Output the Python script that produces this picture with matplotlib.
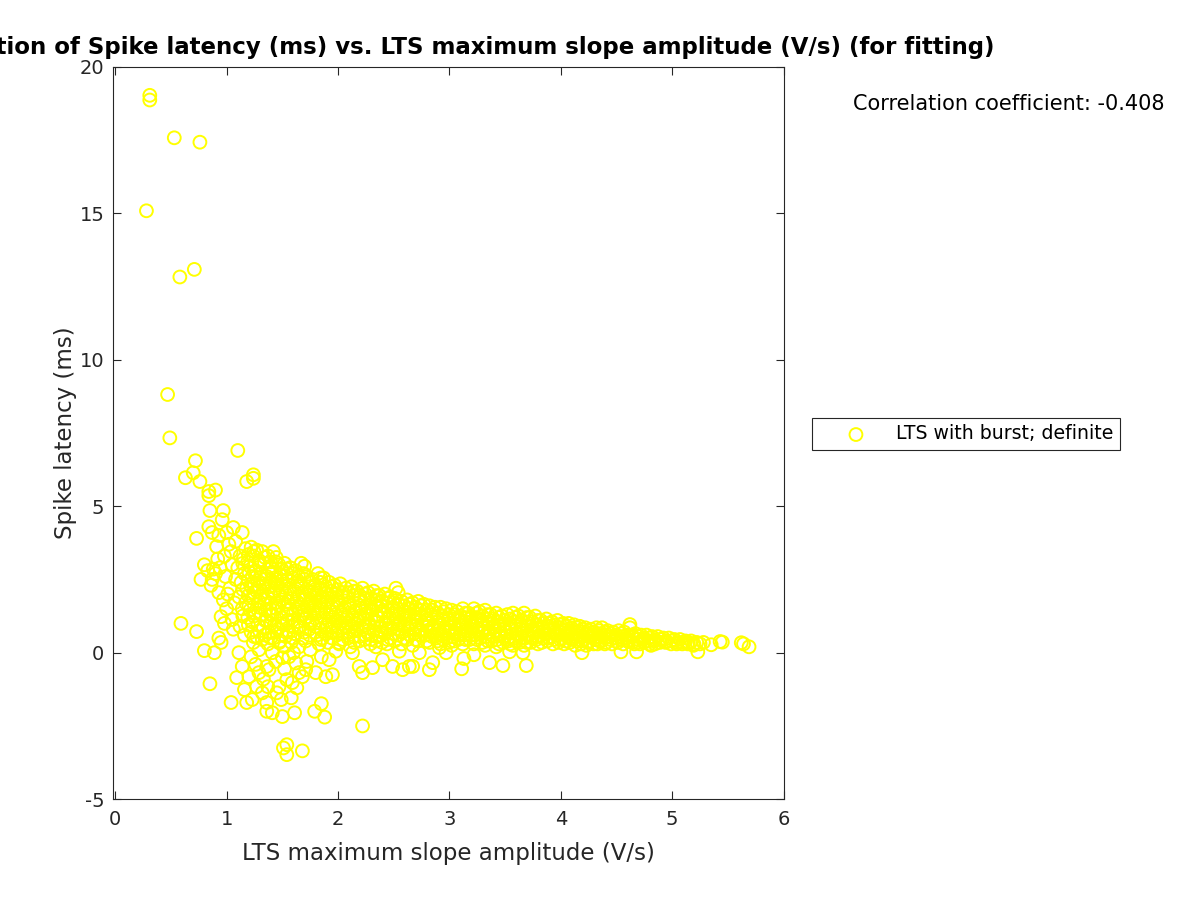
import matplotlib
matplotlib.use("Agg")
import matplotlib.pyplot as plt

plt.rcParams['axes.unicode_minus'] = False

outliers_high = [
    (0.31, 19.02), (0.31, 18.86), (0.53, 17.57), (0.76, 17.42), (0.28, 15.08),
    (0.58, 12.82), (0.71, 13.08), (0.47, 8.81), (0.49, 7.33), (1.10, 6.90),
    (0.63, 5.97), (0.72, 6.55), (0.70, 6.14), (0.76, 5.84), (1.18, 5.84),
    (1.24, 6.07), (1.24, 5.95), (0.84, 5.50), (0.84, 5.36), (0.90, 5.55),
]

fringe_left = [
    (0.85, 4.85), (0.97, 4.85), (0.96, 4.54), (0.84, 4.30), (0.87, 4.10),
    (1.06, 4.27), (1.14, 4.10), (0.91, 3.62), (0.73, 3.90), (0.80, 3.00),
    (0.77, 2.50), (0.87, 2.50), (0.93, 2.05), (0.95, 1.23), (1.05, 1.13),
    (0.93, 0.50), (0.80, 0.07), (0.89, 0.00), (0.85, -1.06), (0.59, 1.00),
    (0.73, 0.72), (0.83, 2.80), (0.90, 2.70), (0.98, 3.30), (1.02, 3.70),
    (1.05, 3.00), (0.99, 2.60), (1.03, 2.20), (0.97, 1.80), (1.00, 1.50),
    (1.07, 1.70), (1.04, 3.45), (0.92, 3.20), (0.95, 0.35), (1.01, 2.00),
    (1.08, 2.50), (0.88, 2.85), (1.00, 4.10), (1.08, 3.80), (0.93, 4.00),
    (0.86, 2.30), (0.94, 2.90), (1.06, 0.80), (0.98, 1.00),
]

band_1 = [
    (1.12, 3.30), (1.10, 2.90), (1.13, 2.40), (1.11, 1.90), (1.14, 1.50), (1.12, 0.90),
    (1.17, 3.55), (1.19, 3.10), (1.16, 2.70), (1.18, 2.20), (1.17, 1.70), (1.19, 1.20), (1.16, 0.60),
    (1.22, 3.60), (1.24, 3.30), (1.21, 2.95), (1.23, 2.60), (1.22, 2.25), (1.24, 1.85),
    (1.21, 1.45), (1.23, 1.05), (1.22, 0.70), (1.24, 0.35),
    (1.27, 3.50), (1.29, 3.15), (1.26, 2.80), (1.28, 2.45), (1.27, 2.10), (1.29, 1.75),
    (1.26, 1.35), (1.28, 0.95), (1.27, 0.55),
    (1.32, 3.45), (1.34, 3.05), (1.31, 2.70), (1.33, 2.35), (1.32, 2.00), (1.34, 1.65),
    (1.31, 1.30), (1.33, 0.85), (1.32, 0.45),
    (1.37, 3.30), (1.39, 2.95), (1.36, 2.60), (1.38, 2.25), (1.37, 1.90), (1.39, 1.50),
    (1.36, 1.10), (1.38, 0.70), (1.37, 0.30),
    (1.42, 3.45), (1.44, 3.10), (1.41, 2.75), (1.43, 2.40), (1.42, 2.05), (1.44, 1.70),
    (1.41, 1.30), (1.43, 0.95), (1.42, 0.50),
    (1.47, 3.00), (1.49, 2.65), (1.46, 2.30), (1.48, 1.95), (1.47, 1.60), (1.49, 1.20),
    (1.46, 0.80), (1.48, 0.40),
    (1.52, 3.05), (1.54, 2.70), (1.51, 2.35), (1.53, 2.00), (1.52, 1.65), (1.54, 1.30),
    (1.51, 0.95), (1.53, 0.55), (1.52, 0.20),
    (1.57, 2.90), (1.59, 2.55), (1.56, 2.20), (1.58, 1.85), (1.57, 1.50), (1.59, 1.10),
    (1.56, 0.70), (1.58, 0.35),
    (1.15, 3.20), (1.20, 2.75), (1.25, 2.30), (1.30, 1.90), (1.35, 1.45), (1.40, 1.00),
    (1.45, 2.50), (1.50, 2.15), (1.55, 1.75), (1.20, 1.60), (1.30, 2.55), (1.40, 2.90),
]

band_2 = [
    (1.62, 2.80), (1.64, 2.45), (1.61, 2.10), (1.63, 1.75), (1.62, 1.40), (1.64, 1.05), (1.61, 0.65),
    (1.67, 3.05), (1.69, 2.70), (1.66, 2.35), (1.68, 2.00), (1.67, 1.65), (1.69, 1.30),
    (1.66, 0.90), (1.68, 0.50), (1.70, 2.95),
    (1.72, 2.60), (1.74, 2.25), (1.71, 1.90), (1.73, 1.55), (1.72, 1.20), (1.74, 0.80), (1.71, 0.40),
    (1.77, 2.50), (1.79, 2.15), (1.76, 1.80), (1.78, 1.45), (1.77, 1.10), (1.79, 0.70),
    (1.82, 2.70), (1.84, 2.40), (1.81, 2.05), (1.83, 1.70), (1.82, 1.35), (1.84, 1.00),
    (1.81, 0.60), (1.83, 0.30),
    (1.87, 2.55), (1.89, 2.25), (1.86, 1.90), (1.88, 1.55), (1.87, 1.20), (1.89, 0.85), (1.86, 0.50),
    (1.92, 2.40), (1.94, 2.10), (1.91, 1.75), (1.93, 1.40), (1.92, 1.05), (1.94, 0.70), (1.91, 0.35),
    (1.97, 2.30), (1.99, 2.00), (1.96, 1.65), (1.98, 1.30), (1.97, 0.95), (1.99, 0.60),
    (2.02, 2.35), (2.04, 2.05), (2.01, 1.70), (2.03, 1.35), (2.02, 1.00), (2.04, 0.65), (2.01, 0.30),
    (2.07, 2.20), (2.09, 1.90), (2.06, 1.55), (2.08, 1.20), (2.07, 0.85), (2.09, 0.50),
    (2.12, 2.25), (2.14, 1.95), (2.11, 1.60), (2.13, 1.25), (2.12, 0.90), (2.14, 0.55), (2.11, 0.20),
    (2.17, 2.10), (2.19, 1.80), (2.16, 1.45), (2.18, 1.10), (2.17, 0.75), (2.19, 0.40),
    (2.22, 2.20), (2.24, 1.85), (2.21, 1.50), (2.23, 1.15), (2.22, 0.80), (2.24, 0.45),
    (2.27, 2.05), (2.29, 1.70), (2.26, 1.35), (2.28, 1.00), (2.27, 0.65), (2.29, 0.30),
    (2.32, 2.10), (2.34, 1.80), (2.31, 1.45), (2.33, 1.10), (2.32, 0.75), (2.34, 0.40),
    (2.37, 1.95), (2.39, 1.60), (2.36, 1.25), (2.38, 0.90), (2.37, 0.55),
    (2.42, 2.00), (2.44, 1.70), (2.41, 1.35), (2.43, 1.00), (2.42, 0.65), (2.44, 0.30),
    (2.47, 1.90), (2.49, 1.55), (2.46, 1.20), (2.48, 0.85), (2.47, 0.50),
    (1.65, 1.90), (1.75, 1.35), (1.85, 1.75), (1.95, 1.20), (2.05, 1.45), (2.15, 1.00),
    (2.25, 1.55), (2.35, 1.05), (2.45, 1.45), (1.70, 1.15), (1.90, 0.95), (2.10, 0.70),
]

band_3 = [
    (2.52, 2.20), (2.54, 2.05), (2.51, 1.85), (2.53, 1.50), (2.52, 1.15), (2.54, 0.80), (2.51, 0.40),
    (2.57, 1.75), (2.59, 1.40), (2.56, 1.05), (2.58, 0.70), (2.57, 0.30),
    (2.62, 1.80), (2.64, 1.50), (2.61, 1.15), (2.63, 0.80), (2.62, 0.45),
    (2.67, 1.70), (2.69, 1.35), (2.66, 1.00), (2.68, 0.65), (2.67, 0.25),
    (2.72, 1.75), (2.74, 1.45), (2.71, 1.10), (2.73, 0.75), (2.72, 0.40),
    (2.77, 1.65), (2.79, 1.30), (2.76, 0.95), (2.78, 0.60),
    (2.82, 1.60), (2.84, 1.30), (2.81, 1.00), (2.83, 0.70), (2.82, 0.35),
    (2.87, 1.55), (2.89, 1.20), (2.86, 0.85), (2.88, 0.50),
    (2.92, 1.55), (2.94, 1.25), (2.91, 0.95), (2.93, 0.60), (2.92, 0.30),
    (2.97, 1.50), (2.99, 1.15), (2.96, 0.85), (2.98, 0.50),
    (3.02, 1.45), (3.04, 1.15), (3.01, 0.85), (3.03, 0.55), (3.02, 0.25),
    (3.07, 1.40), (3.09, 1.10), (3.06, 0.80), (3.08, 0.45),
    (3.12, 1.50), (3.14, 1.20), (3.11, 0.90), (3.13, 0.60), (3.12, 0.30),
    (3.17, 1.35), (3.19, 1.05), (3.16, 0.75), (3.18, 0.45),
    (3.22, 1.50), (3.24, 1.20), (3.21, 0.90), (3.23, 0.60), (3.22, 0.30),
    (3.27, 1.40), (3.29, 1.10), (3.26, 0.80), (3.28, 0.50),
    (3.32, 1.45), (3.34, 1.15), (3.31, 0.85), (3.33, 0.55), (3.32, 0.25),
    (3.37, 1.30), (3.39, 1.00), (3.36, 0.70), (3.38, 0.40),
    (3.42, 1.35), (3.44, 1.05), (3.41, 0.75), (3.43, 0.45), (3.42, 0.20),
    (3.47, 1.25), (3.49, 0.95), (3.46, 0.65), (3.48, 0.35),
    (2.60, 1.25), (2.70, 0.90), (2.80, 1.15), (2.90, 0.75), (3.00, 1.00), (3.10, 0.65),
    (3.20, 1.05), (3.30, 0.70), (3.40, 0.90),
]

band_4 = [
    (3.52, 1.30), (3.54, 1.00), (3.51, 0.70), (3.53, 0.40),
    (3.57, 1.35), (3.59, 1.05), (3.56, 0.80), (3.58, 0.50), (3.57, 0.25),
    (3.62, 1.25), (3.64, 0.95), (3.61, 0.65), (3.63, 0.35),
    (3.67, 1.35), (3.69, 1.05), (3.66, 0.75), (3.68, 0.50), (3.67, 0.25),
    (3.72, 1.20), (3.74, 0.90), (3.71, 0.60), (3.73, 0.35),
    (3.77, 1.25), (3.79, 0.95), (3.76, 0.70), (3.78, 0.45),
    (3.82, 1.10), (3.84, 0.85), (3.81, 0.60), (3.83, 0.35),
    (3.87, 1.15), (3.89, 0.90), (3.86, 0.65), (3.88, 0.40),
    (3.92, 1.05), (3.94, 0.80), (3.91, 0.55), (3.93, 0.30),
    (3.97, 1.10), (3.99, 0.85), (3.96, 0.60), (3.98, 0.35),
    (4.02, 1.00), (4.04, 0.75), (4.01, 0.50), (4.03, 0.30),
    (4.07, 1.00), (4.09, 0.75), (4.06, 0.55), (4.08, 0.35),
    (4.12, 0.95), (4.14, 0.70), (4.11, 0.50), (4.13, 0.25),
    (4.17, 0.90), (4.19, 0.70), (4.16, 0.45), (4.18, 0.30),
    (4.22, 0.85), (4.24, 0.65), (4.21, 0.45), (4.23, 0.25),
    (4.27, 0.80), (4.29, 0.60), (4.26, 0.40),
    (4.32, 0.85), (4.34, 0.65), (4.31, 0.45), (4.33, 0.30),
    (4.37, 0.85), (4.39, 0.60), (4.36, 0.40),
    (4.42, 0.75), (4.44, 0.55), (4.41, 0.35),
    (4.47, 0.70), (4.49, 0.50), (4.46, 0.30),
]

# zweite Lage, versetzt, damit das Band so dicht wirkt wie im Original
band_fill = [
    (1.145, 3.05), (1.145, 2.15), (1.145, 1.25),
    (1.195, 3.35), (1.195, 2.45), (1.195, 1.95), (1.195, 0.95),
    (1.245, 3.45), (1.245, 2.75), (1.245, 2.05), (1.245, 1.25), (1.245, 0.55),
    (1.295, 3.00), (1.295, 2.25), (1.295, 1.55), (1.295, 0.75),
    (1.345, 3.25), (1.345, 2.50), (1.345, 1.80), (1.345, 1.10), (1.345, 0.60),
    (1.395, 3.10), (1.395, 2.40), (1.395, 1.70), (1.395, 1.30), (1.395, 0.50),
    (1.445, 3.25), (1.445, 2.20), (1.445, 1.50), (1.445, 0.70),
    (1.495, 2.85), (1.495, 2.45), (1.495, 1.80), (1.495, 1.00), (1.495, 0.60),
    (1.545, 2.85), (1.545, 2.50), (1.545, 1.45), (1.545, 1.10), (1.545, 0.75),
    (1.595, 2.70), (1.595, 2.00), (1.595, 1.30), (1.595, 0.90), (1.595, 0.50),
    (1.645, 2.60), (1.645, 2.25), (1.645, 1.55), (1.645, 0.85),
    (1.695, 2.50), (1.695, 1.80), (1.695, 1.45), (1.695, 0.70),
    (1.745, 2.40), (1.745, 2.05), (1.745, 1.70), (1.745, 1.00), (1.745, 0.60),
    (1.795, 2.30), (1.795, 1.95), (1.795, 1.60), (1.795, 0.90),
    (1.845, 2.55), (1.845, 2.20), (1.845, 1.50), (1.845, 0.80), (1.845, 0.45),
    (1.895, 2.05), (1.895, 1.70), (1.895, 1.35), (1.895, 0.65),
    (1.945, 2.25), (1.945, 1.90), (1.945, 1.55), (1.945, 0.85), (1.945, 0.50),
    (1.995, 2.15), (1.995, 1.80), (1.995, 1.10), (1.995, 0.75),
    (2.045, 1.90), (2.045, 1.20), (2.045, 0.85), (2.045, 0.45),
    (2.095, 2.05), (2.095, 1.70), (2.095, 1.35), (2.095, 1.00),
    (2.145, 2.10), (2.145, 1.40), (2.145, 0.75), (2.145, 0.35),
    (2.195, 1.95), (2.195, 1.60), (2.195, 1.25), (2.195, 0.55),
    (2.245, 2.00), (2.245, 1.30), (2.245, 0.95), (2.245, 0.60),
    (2.295, 1.85), (2.295, 1.50), (2.295, 1.15), (2.295, 0.45),
    (2.345, 1.95), (2.345, 1.60), (2.345, 1.25), (2.345, 0.55),
    (2.395, 1.75), (2.395, 1.40), (2.395, 0.70), (2.395, 0.35),
    (2.445, 1.85), (2.445, 1.15), (2.445, 0.80), (2.445, 0.45),
    (2.495, 1.70), (2.495, 1.35), (2.495, 1.00), (2.495, 0.65),
    (2.545, 1.65), (2.545, 1.30), (2.545, 0.95), (2.545, 0.60),
    (2.595, 1.60), (2.595, 0.90), (2.595, 0.50),
    (2.645, 1.65), (2.645, 1.30), (2.645, 0.95), (2.645, 0.60),
    (2.695, 1.55), (2.695, 1.20), (2.695, 0.80), (2.695, 0.45),
    (2.745, 1.60), (2.745, 1.25), (2.745, 0.60),
    (2.795, 1.45), (2.795, 1.10), (2.795, 0.75), (2.795, 0.40),
    (2.845, 1.45), (2.845, 0.85), (2.845, 0.55),
    (2.895, 1.35), (2.895, 1.05), (2.895, 0.65), (2.895, 0.40),
    (2.945, 1.40), (2.945, 1.10), (2.945, 0.75), (2.945, 0.45),
    (2.995, 1.30), (2.995, 0.70), (2.995, 0.35),
    (3.045, 1.30), (3.045, 1.00), (3.045, 0.70), (3.045, 0.40),
    (3.095, 1.25), (3.095, 0.95), (3.095, 0.60),
    (3.145, 1.35), (3.145, 1.05), (3.145, 0.75), (3.145, 0.45),
    (3.195, 1.20), (3.195, 0.90), (3.195, 0.60),
    (3.245, 1.35), (3.245, 1.05), (3.245, 0.75), (3.245, 0.45),
    (3.295, 1.25), (3.295, 0.95), (3.295, 0.35),
    (3.345, 1.30), (3.345, 1.00), (3.345, 0.70), (3.345, 0.40),
    (3.395, 1.15), (3.395, 0.85), (3.395, 0.55),
    (3.445, 1.20), (3.445, 0.90), (3.445, 0.60), (3.445, 0.30),
    (3.495, 1.10), (3.495, 0.80), (3.495, 0.50),
    (3.545, 1.15), (3.545, 0.85), (3.545, 0.55), (3.545, 0.30),
    (3.595, 1.20), (3.595, 0.90), (3.595, 0.65), (3.595, 0.40),
    (3.645, 1.10), (3.645, 0.80), (3.645, 0.50),
    (3.695, 1.20), (3.695, 0.90), (3.695, 0.60), (3.695, 0.35),
    (3.745, 1.05), (3.745, 0.75), (3.745, 0.50),
    (3.795, 1.10), (3.795, 0.80), (3.795, 0.55), (3.795, 0.30),
    (3.845, 1.00), (3.845, 0.75), (3.845, 0.50),
    (3.895, 1.00), (3.895, 0.75), (3.895, 0.50),
    (3.945, 0.95), (3.945, 0.70), (3.945, 0.45),
    (3.995, 0.95), (3.995, 0.70), (3.995, 0.45),
    (4.045, 0.90), (4.045, 0.65), (4.045, 0.40),
    (4.095, 0.85), (4.095, 0.65), (4.095, 0.45),
    (4.145, 0.85), (4.145, 0.60), (4.145, 0.40),
    (4.195, 0.80), (4.195, 0.55), (4.195, 0.40),
    (4.245, 0.75), (4.245, 0.55), (4.245, 0.35),
    (4.295, 0.70), (4.295, 0.50), (4.295, 0.30),
    (4.345, 0.75), (4.345, 0.55), (4.345, 0.40),
    (4.395, 0.70), (4.395, 0.50), (4.395, 0.30),
    (4.445, 0.65), (4.445, 0.45), (4.495, 0.60), (4.495, 0.40),
    (4.545, 0.65), (4.545, 0.45), (4.595, 0.60), (4.595, 0.40),
    (4.645, 0.55), (4.645, 0.35), (4.695, 0.55), (4.695, 0.35),
    (4.745, 0.50), (4.745, 0.35), (4.795, 0.50), (4.795, 0.30),
    (4.845, 0.45), (4.845, 0.30), (4.895, 0.45), (4.945, 0.40),
    (4.995, 0.40), (5.045, 0.35), (5.095, 0.35), (5.145, 0.35),
    (5.195, 0.30), (5.250, 0.30), (5.280, 0.35),
]

tail = [
    (4.52, 0.75), (4.54, 0.55), (4.51, 0.35),
    (4.57, 0.70), (4.59, 0.50), (4.56, 0.30),
    (4.62, 0.85), (4.62, 0.96), (4.64, 0.60), (4.61, 0.40),
    (4.67, 0.65), (4.69, 0.45), (4.66, 0.30),
    (4.72, 0.60), (4.74, 0.45), (4.71, 0.30),
    (4.77, 0.60), (4.79, 0.40),
    (4.82, 0.55), (4.84, 0.40), (4.81, 0.25),
    (4.87, 0.55), (4.89, 0.35),
    (4.92, 0.50), (4.94, 0.35),
    (4.97, 0.50), (4.99, 0.30),
    (5.02, 0.45), (5.04, 0.30),
    (5.07, 0.45), (5.09, 0.30),
    (5.12, 0.40), (5.14, 0.30),
    (5.17, 0.40), (5.19, 0.25),
    (5.22, 0.35), (5.23, 0.03), (5.35, 0.27), (5.43, 0.38), (5.45, 0.36),
    (5.62, 0.34), (5.64, 0.30), (5.69, 0.20),
    (4.19, 0.00), (4.54, 0.03), (4.68, 0.03),
]

below_zero = [
    (1.11, 0.00), (1.14, -0.47), (1.09, -0.85), (1.16, -1.26), (1.04, -1.70),
    (1.18, -1.70), (1.23, -1.60), (1.36, -2.00), (1.41, -2.05), (1.50, -2.18),
    (1.61, -2.05), (1.58, -1.54), (1.49, -1.60), (1.32, -1.37), (1.47, -1.16),
    (1.63, -1.20), (1.29, -0.68), (1.38, -0.58), (1.54, -0.92), (1.65, -0.68),
    (1.71, -0.58), (1.80, -0.68), (1.89, -0.82), (1.95, -0.75), (1.85, -0.14),
    (1.92, -0.24), (1.79, -2.00), (1.85, -1.74), (1.88, -2.20), (2.22, -2.50),
    (1.54, -3.48), (1.68, -3.35), (1.51, -3.25), (1.54, -3.14),
    (1.22, -0.14), (1.29, 0.10), (1.36, -0.47), (1.41, 0.00), (1.50, -0.17),
    (1.47, 0.34), (1.56, -0.14), (1.65, 0.20), (1.59, -1.02), (1.68, -0.82),
    (1.37, -1.16), (1.20, -0.82), (1.27, -1.16), (1.45, -1.37), (1.36, -1.70),
    (2.19, -0.47), (2.22, -0.68), (2.31, -0.51), (2.13, 0.00), (2.40, -0.24),
    (2.49, -0.47), (2.58, -0.58), (2.67, -0.47), (2.82, -0.58), (2.85, -0.34),
    (2.01, 0.34), (2.34, 0.20), (2.73, 0.00), (2.64, -0.47), (3.11, -0.55),
    (3.36, -0.34), (3.48, -0.44), (3.69, -0.44), (3.22, -0.07), (3.13, -0.20),
    (3.54, 0.03), (3.66, 0.00), (2.97, 0.00), (2.91, 0.17),
    (1.75, 0.10), (1.98, 0.05), (2.55, 0.05), (1.72, -0.30), (1.60, 0.00),
    (1.44, -0.30), (1.33, -0.90), (1.52, -0.55), (1.62, -0.35), (1.26, -0.40),
]

groups = [outliers_high, fringe_left, band_1, band_2, band_3, band_4, band_fill, tail, below_zero]
x = [p[0] for g in groups for p in g]
y = [p[1] for g in groups for p in g]

fig = plt.figure(figsize=(12, 9), dpi=100)
ax = fig.add_axes([0.094, 0.112, 0.559, 0.814])

ax.scatter(x, y, s=85, facecolors='none', edgecolors='#FFFF00', linewidths=1.4,
           label='LTS with burst; definite')

ax.set_xlim(-0.022, 6)
ax.set_ylim(-5, 20)
ax.set_xticks([0, 1, 2, 3, 4, 5, 6])
ax.set_yticks([-5, 0, 5, 10, 15, 20])
ax.tick_params(direction='in', top=True, right=True, labelsize=14,
               colors='#262626', length=6)
ax.tick_params(axis='x', pad=8)
ax.tick_params(axis='y', pad=6)
for s in ax.spines.values():
    s.set_color('#262626')

ax.set_xlabel('LTS maximum slope amplitude (V/s)', fontsize=16.5, color='#262626', labelpad=9)
ax.set_ylabel('Spike latency (ms)', fontsize=16.5, color='#262626', labelpad=2)
ax.set_title('Correlation of Spike latency (ms) vs. LTS maximum slope amplitude (V/s) (for fitting)',
             fontsize=16.5, fontweight='bold', pad=9)

fig.text(0.711, 0.884, 'Correlation coefficient: -0.408', fontsize=15, va='center')

leg = ax.legend(loc='upper left', bbox_to_anchor=(1.0417, 0.5205), fontsize=13.6,
                fancybox=False, edgecolor='#262626', framealpha=1,
                borderpad=0.35, handlelength=4.0, handletextpad=0.1, borderaxespad=0)
leg.get_frame().set_linewidth(0.8)

fig.savefig('out.png', dpi=100)
